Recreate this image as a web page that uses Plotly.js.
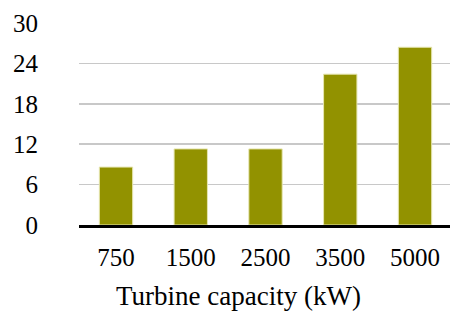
<!DOCTYPE html>
<html>
<head>
<meta charset="utf-8">
<script src="https://cdn.plot.ly/plotly-3.0.1.min.js"></script>
<style>html,body{margin:0;padding:0;background:#fff;}#chart{width:450px;height:311px;}</style>
</head>
<body>
<div id="chart"></div>
<script>
const categories = ["750", "1500", "2500", "3500", "5000"];
const values = [8.6, 11.3, 11.3, 22.4, 26.4];
const yTicks = [0, 6, 12, 18, 24, 30];
const xTitle = "Turbine capacity (kW)";

const font = "Liberation Serif";

Plotly.newPlot("chart", [{
  type: "bar",
  x: categories,
  y: values,
  marker: { color: "#929200", line: { color: "#e6e6b0", width: 1 } },
  hoverinfo: "none"
}], {
  width: 450,
  height: 311,
  margin: { l: 79, r: 0, t: 23, b: 86 },
  paper_bgcolor: "#fff",
  plot_bgcolor: "#fff",
  bargap: 0.554,
  showlegend: false,
  font: { family: font, color: "#000", size: 25 },
  xaxis: {
    type: "category",
    range: [-0.495, 4.468],
    showline: true,
    linecolor: "#000",
    linewidth: 3,
    showgrid: false,
    ticks: "",
    ticklabelstandoff: 8,
    tickfont: { family: font, size: 25, color: "#000" }
  },
  yaxis: {
    range: [0, 30],
    tickvals: yTicks,
    ticktext: yTicks.map(String),
    showline: false,
    zeroline: false,
    showgrid: true,
    gridcolor: "#c8c8c8",
    gridwidth: 1.5,
    ticks: "",
    ticklabelstandoff: 40,
    tickfont: { family: font, size: 25, color: "#000" }
  },
  annotations: [{
    text: xTitle,
    xref: "paper", yref: "paper",
    x: 0.431, y: 0,
    yshift: -71,
    xanchor: "center", yanchor: "middle",
    showarrow: false,
    font: { family: font, size: 27, color: "#000" }
  }]
}, { displayModeBar: false, staticPlot: true });
</script>
</body>
</html>
